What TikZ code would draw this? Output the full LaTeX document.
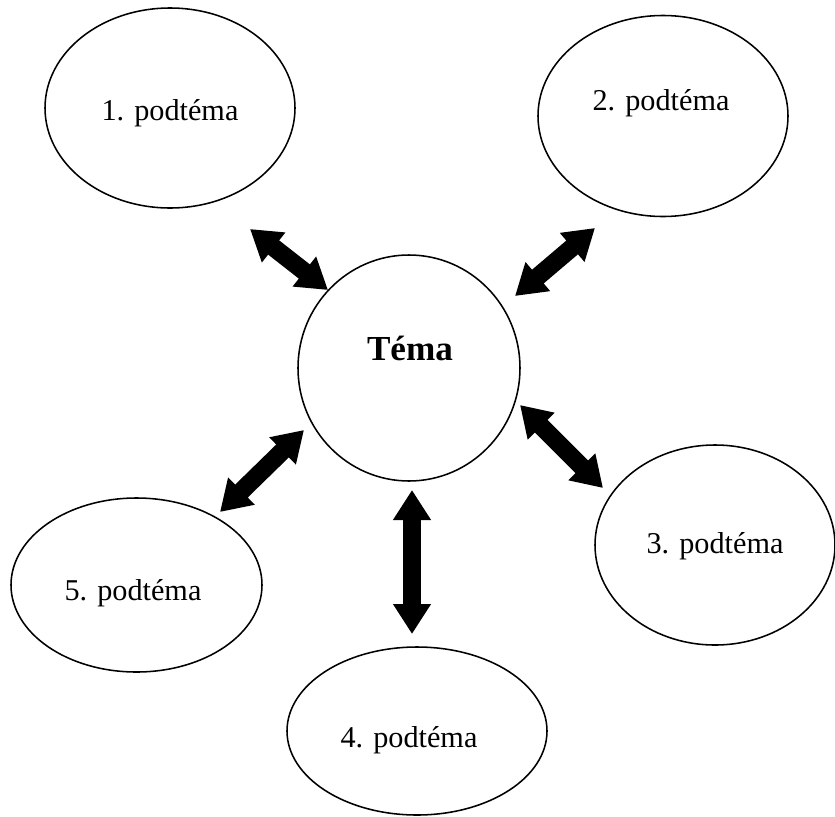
\documentclass[tikz,border=0pt]{standalone}
\usepackage{fontspec}
\setmainfont{Liberation Serif}
\usepackage{tikz}
\usetikzlibrary{arrows.meta, positioning, shapes.geometric, calc}

\begin{document}
\begin{tikzpicture}[x=0.025cm, y=-0.025cm,
  bubble/.style={draw=black, line width=1.1pt, ellipse, inner sep=0pt},
  subtext/.style={anchor=base, inner sep=0pt, font=\fontsize{21.5}{24}\selectfont},
  maintext/.style={anchor=base, inner sep=0pt, font=\fontsize{25}{28}\selectfont\bfseries},
  biarrow/.style={line width=0.45cm, {Triangle[length=0.75cm, width=0.9cm]}-{Triangle[length=0.75cm, width=0.9cm]}}]
  \useasboundingbox (0,0) rectangle (835,816);
  % main topic
  \node[bubble, minimum width=222*0.025cm, minimum height=226*0.025cm] (tema) at (409,368) {};
  \node[maintext] (temaText) at (410,360) {Téma};
  % subtopics
  \node[bubble, minimum width=250*0.025cm, minimum height=200*0.025cm] (p1) at (170,108) {};
  \node[bubble, minimum width=250*0.025cm, minimum height=201*0.025cm] (p2) at (663,116) {};
  \node[bubble, minimum width=240*0.025cm, minimum height=200*0.025cm] (p3) at (715,545) {};
  \node[bubble, minimum width=260*0.025cm, minimum height=168*0.025cm] (p4) at (417,731) {};
  \node[bubble, minimum width=251*0.025cm, minimum height=174*0.025cm] (p5) at (136.5,585) {};
  \node[subtext] (t1) at (170,120) {1. podtéma};
  \node[subtext] (t2) at (661,110) {2. podtéma};
  \node[subtext] (t3) at (715,553) {3. podtéma};
  \node[subtext] (t4) at (409,747) {4. podtéma};
  \node[subtext] (t5) at (133,600) {5. podtéma};
  % arrow ends
  \coordinate (a1s) at (250,229);  \coordinate (a1t) at (328,290);
  \coordinate (a2s) at (595,228);  \coordinate (a2t) at (515,296);
  \coordinate (a3s) at (520,405);  \coordinate (a3t) at (603,488);
  \coordinate (a4s) at (412,490);  \coordinate (a4t) at (412,634);
  \coordinate (a5s) at (304,430);  \coordinate (a5t) at (220,512);
  \foreach \s/\t in {a1s/a1t, a2s/a2t, a3s/a3t, a4s/a4t, a5s/a5t}
    \draw[biarrow] (\s) -- (\t);
\end{tikzpicture}
\end{document}
